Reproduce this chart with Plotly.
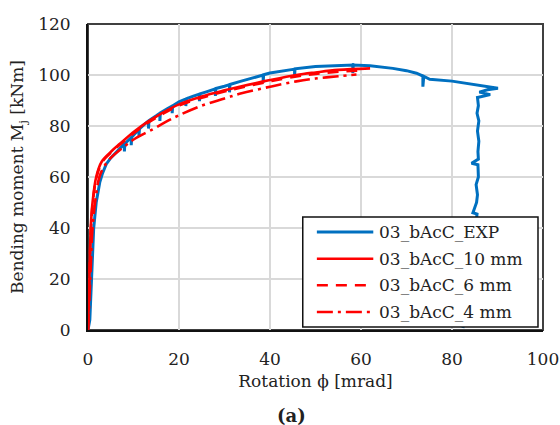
import plotly.graph_objects as go

# Moment-rotation curves for joint 03_bAcC: test vs. FE models with three mesh sizes
exp_rot = [0, 0.4, 0.8, 1.25, 1.8, 2.6, 3.2, 4.0, 5.0, 6.6,
           8.0, 8.0, 8.1, 9.5, 9.5, 9.6, 10.3, 11.2, 11.2, 11.3, 12.5,
           13.3, 13.3, 13.4, 15.0, 15.8, 15.8, 15.9, 17.5, 18.5, 18.5, 18.6,
           20.0, 21.5, 21.5, 21.6, 23.0, 24.5, 24.5, 24.6, 26.0, 28.0, 28.0, 28.1,
           30.0, 31.1, 31.1, 31.2, 33.3, 36.0, 38.5, 38.5, 38.6, 40.0,
           45.4, 45.4, 45.5, 50.0, 57.5, 58.2, 58.2, 58.3, 62.0, 67.0, 70.0,
           72.2, 73.6, 73.6, 73.8, 75.1, 80.0, 85.0, 90.1, 87.8, 86.0, 88.4,
           85.6, 85.8, 85.5, 85.9, 85.6, 85.9, 85.7, 85.8, 84.3, 85.7, 85.8,
           85.3, 85.6, 85.4, 84.6, 85.5, 85.2, 84.8, 84.4, 84.0, 83.6, 83.2,
           82.8, 82.4]
exp_mom = [0, 4, 21, 40, 50, 58, 61.5, 65, 67.5, 70.5,
           73.0, 70.0, 73.1, 75.5, 72.5, 75.6, 77.0, 78.8, 75.8, 78.9, 80.8,
           82.0, 79.0, 82.1, 84.0, 85.0, 82.0, 85.1, 86.8, 87.8, 85.0, 87.9,
           89.5, 90.6, 87.8, 90.7, 91.6, 92.5, 89.7, 92.6, 93.4, 94.6, 91.8, 94.7,
           95.6, 96.2, 93.2, 96.3, 97.4, 98.8, 100.0, 97.0, 100.1, 100.8,
           102.3, 99.5, 102.4, 103.3, 103.9, 103.9, 100.8, 103.9, 103.6, 102.6, 101.7,
           100.7, 99.6, 95.4, 99.5, 98.3, 97.6, 96.3, 94.8, 94.2, 93.3, 92.3,
           91.2, 88.0, 85.0, 82.0, 78.0, 74.0, 70.0, 67.0, 65.4, 64.8, 60.0,
           57.0, 53.0, 50.0, 46.0, 45.5, 40.0, 33.0, 26.0, 20.0, 14.0, 9.0,
           4.0, 0.8]

fe10_rot = [0, 0.3, 0.6, 1.0, 1.8, 3.0, 5.1, 7.0, 10.3, 13.0, 16.0, 20.0,
            25.0, 30.0, 33.3, 40.0, 45.8, 50.0, 55.0, 62.0]
fe10_mom = [0, 20, 40, 50, 60, 66, 70, 73, 78, 81.5, 84.8, 88.5,
            91.6, 94.0, 95.4, 98.0, 100.0, 101.0, 102.0, 102.6]

fe6_rot = [0, 0.3, 0.65, 1.05, 1.9, 3.1, 5.2, 7.1, 10.4, 13.1, 16.1, 20.0,
           25.0, 30.0, 33.3, 40.0, 45.8, 50.0, 55.0, 60.0]
fe6_mom = [0, 20, 40, 50, 60, 65.8, 69.8, 72.8, 77.7, 81.2, 84.4, 88.0,
           91.1, 93.5, 94.9, 97.5, 99.4, 100.4, 101.3, 101.8]

fe4_rot = [0, 0.5, 1.0, 1.7, 2.5, 3.5, 5.0, 8.0, 10.3, 14.0, 17.0, 20.0,
           25.0, 30.0, 33.3, 40.0, 45.8, 50.0, 55.0, 59.0]
fe4_mom = [0, 20, 40, 52, 60, 64, 67.5, 72, 75, 78.5, 81.5, 84.2,
           88.0, 90.8, 92.6, 95.4, 97.5, 98.6, 99.5, 100.2]

series_names = ["03_bAcC_EXP", "03_bAcC_10 mm", "03_bAcC_6 mm", "03_bAcC_4 mm"]
x_ticks = [0, 20, 40, 60, 80, 100]
y_ticks = [0, 20, 40, 60, 80, 100, 120]

BLUE = "#0070C0"
RED = "#FF0000"
FONT = "DejaVu Serif"
TXT = "#222222"
FS = 17

series = [
    (exp_rot, exp_mom, BLUE, 3.0, "solid", "linear"),
    (fe10_rot, fe10_mom, RED, 2.6, "solid", "spline"),
    (fe6_rot, fe6_mom, RED, 2.6, "11px,8px", "spline"),
    (fe4_rot, fe4_mom, RED, 2.6, "16px,5px,3px,5px", "spline"),
]

fig = go.Figure()
for (xs, ys, col, lw, dash, shape), name in zip(series, series_names):
    fig.add_trace(go.Scatter(x=xs, y=ys, mode="lines", name=name, showlegend=False,
                             line=dict(color=col, width=lw, dash=dash, shape=shape)))

# Legend box in the lower-right corner of the plot area (paper coordinates)
box_x0, box_x1, box_y0, box_y1 = 0.472, 0.989, 0.010, 0.369
row_y = [0.320, 0.233, 0.146, 0.059]
line_x0, line_x1, text_x = 0.503, 0.627, 0.636

shapes = [
    dict(type="rect", xref="paper", yref="paper", x0=0, x1=1, y0=0, y1=1,
         line=dict(color="#404040", width=2), layer="below"),
    dict(type="rect", xref="paper", yref="paper", x0=box_x0, x1=box_x1, y0=box_y0, y1=box_y1,
         line=dict(color="#111111", width=1.5), fillcolor="white", layer="above"),
]
annotations = []
for (xs, ys, col, lw, dash, shape), name, yy in zip(series, series_names, row_y):
    shapes.append(dict(type="line", xref="paper", yref="paper", x0=line_x0, x1=line_x1,
                       y0=yy, y1=yy, line=dict(color=col, width=lw, dash=dash), layer="above"))
    annotations.append(dict(text=name, xref="paper", yref="paper", x=text_x, y=yy,
                            xanchor="left", yanchor="middle", showarrow=False,
                            font=dict(family=FONT, size=FS, color=TXT)))
annotations.append(dict(text="<b>(a)</b>", xref="paper", yref="paper", x=0.448, y=-0.281,
                        xanchor="center", yanchor="middle", showarrow=False,
                        font=dict(family=FONT, size=18, color=TXT)))

grid = "#D9D9D9"
fig.update_layout(
    width=560, height=425,
    margin=dict(l=88, r=17, t=24, b=95, autoexpand=False),
    paper_bgcolor="white", plot_bgcolor="white",
    font=dict(family=FONT, size=FS, color=TXT),
    showlegend=False,
    xaxis=dict(
        range=[0, 100], tickvals=x_ticks, showgrid=True, gridcolor=grid, gridwidth=1.5,
        zeroline=False, showline=True, linecolor="#111111", linewidth=2,
        ticks="", ticklabelstandoff=13,
        title=dict(text="Rotation ϕ [mrad]", standoff=7,
                   font=dict(family=FONT, size=FS, color=TXT)),
    ),
    yaxis=dict(
        range=[0, 120], tickvals=y_ticks, showgrid=True, gridcolor=grid, gridwidth=1.5,
        zeroline=False, showline=True, linecolor="#111111", linewidth=2,
        ticks="", ticklabelstandoff=12,
        title=dict(text="Bending moment M<sub>j</sub> [kNm]", standoff=10,
                   font=dict(family=FONT, size=FS, color=TXT)),
    ),
    shapes=shapes,
    annotations=annotations,
)

fig.write_html("out.html")
